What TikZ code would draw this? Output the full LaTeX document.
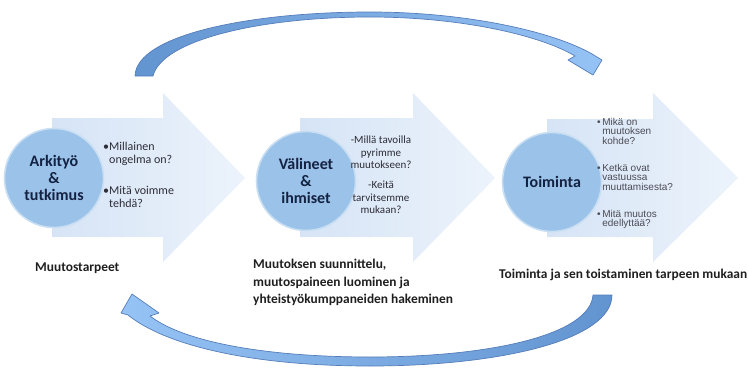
\documentclass[tikz,border=0pt]{standalone}
\usepackage{fontspec}
\setmainfont{Carlito}
\newfontfamily\arialf{Liberation Sans}
\definecolor{arrL}{RGB}{214,228,246}
\definecolor{arrR}{RGB}{236,243,251}
\definecolor{circF}{RGB}{155,194,232}
\definecolor{circD}{RGB}{200,222,243}
\definecolor{navy}{RGB}{20,34,66}
\definecolor{txtD}{RGB}{45,45,55}
\definecolor{txtG}{RGB}{75,75,85}
\definecolor{arcDark}{RGB}{98,148,208}
\definecolor{arcLight}{RGB}{150,195,245}
\definecolor{arcLine}{RGB}{85,125,185}
\tikzset{
  bigarrow/.style={left color=arrL, right color=arrR, draw=none},
  circ/.style={circle, minimum size=99pt, inner sep=0pt, fill=circF, draw=circD, line width=1.6pt,
    font=\fontsize{16}{17}\selectfont\bfseries, text=navy, align=center},
  btxt/.style={font=\fontsize{12}{13}\selectfont, text=txtD, align=left, inner sep=0pt, anchor=north west},
  ctxt/.style={font=\fontsize{11}{12.5}\selectfont, text=txtD, align=center, inner sep=0pt, anchor=north},
  atxt/.style={font=\arialf\fontsize{10}{9.3}\selectfont, text=txtG, align=left, inner sep=0pt, anchor=north west},
  lbl/.style={font=\fontsize{13.4}{17.5}\selectfont\bfseries, text=black!88, align=left, inner sep=0pt},
  arcstyle/.style={draw=arcLine, line width=0.7pt, line join=round}
}
\begin{document}
\begin{tikzpicture}[x=1pt,y=-1pt]
\useasboundingbox (0,0) rectangle (749,369);
% big arrows
\path[bigarrow] (52,118) -- (163,118) -- (163,93) -- (245,178) -- (163,262) -- (163,237) -- (52,237) -- cycle;
\path[bigarrow] (300,118) -- (413,118) -- (413,93) -- (495,178) -- (413,262) -- (413,237) -- (300,237) -- cycle;
\path[bigarrow] (547,119) -- (653,119) -- (653,93) -- (738,178) -- (653,262) -- (653,237) -- (547,237) -- cycle;
% circles
\node[circ] (c1) at (54,178) {Arkityö\\\&\\tutkimus};
\node[circ] (c2) at (306,181) {Välineet\\\&\\ihmiset};
\node[circ] (c3) at (552,182) {Toiminta};
% arrow 1 texts
\node[btxt] (t1a) at (103,142) {\textbullet Millainen\\\phantom{\textbullet}ongelma on?};
\node[btxt] (t1b) at (103,186) {\textbullet Mitä voimme\\\phantom{\textbullet}tehdä?};
% arrow 2 texts
\node[ctxt] (t2a) at (381,136) {-Millä tavoilla\\pyrimme\\muutokseen?};
\node[ctxt] (t2b) at (381,181) {-Keitä\\tarvitsemme\\mukaan?};
% arrow 3 texts
\node[atxt] (t3a) at (597,118) {\textbullet\,Mikä on\\\phantom{\textbullet\,}muutoksen\\\phantom{\textbullet\,}kohde?};
\node[atxt] (t3b) at (597,164) {\textbullet\,Ketkä ovat\\\phantom{\textbullet\,}vastuussa\\\phantom{\textbullet\,}muuttamisesta?};
\node[atxt] (t3c) at (597,210) {\textbullet\,Mitä muutos\\\phantom{\textbullet\,}edellyttää?};
% bottom labels
\node[lbl, anchor=base west] (l1) at (35,271) {Muutostarpeet};
\node[lbl, anchor=north west] (l2) at (253,259) {Muutoksen suunnittelu,\\muutospaineen luominen ja\\yhteistyökumppaneiden hakeminen};
\node[lbl, anchor=base west] (l3) at (499,278) {Toiminta ja sen toistaminen tarpeen mukaan};
% top curved arrow
\path[arcstyle, left color=arcDark, right color=arcLight]
  (135,76) .. controls (136,35) and (250,12) .. (370,12)
  .. controls (470,12) and (560,33) .. (597,57)
  -- (602,60) -- (593,75) -- (568,60) -- (575,56)
  .. controls (540,35) and (460,17) .. (370,17)
  .. controls (260,17) and (162,40) .. (153,76) -- cycle;
% bottom curved arrow
\path[arcstyle, left color=arcLight, right color=arcDark]
  (612,295) .. controls (612,340) and (500,366) .. (370,366)
  .. controls (250,366) and (165,345) .. (128,315)
  -- (121,313) -- (132,294) -- (159,313) -- (150,316)
  .. controls (185,343) and (270,357) .. (370,357)
  .. controls (490,357) and (590,335) .. (593,295) -- cycle;
\end{tikzpicture}
\end{document}
